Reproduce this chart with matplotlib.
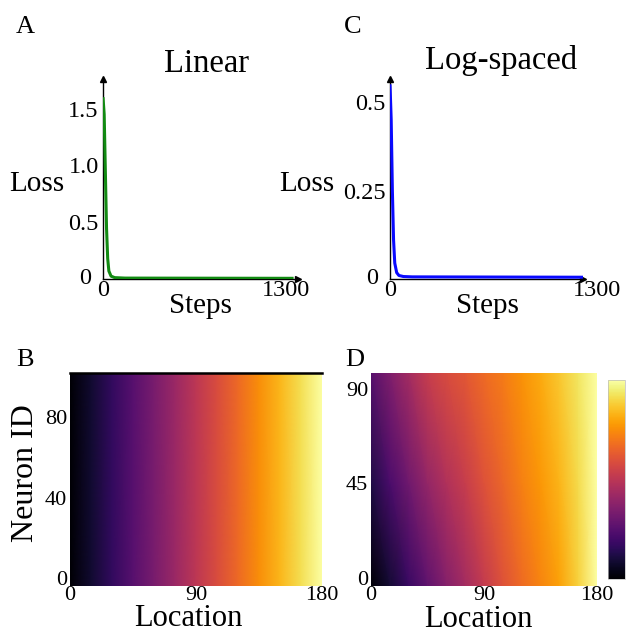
import numpy as np
import matplotlib
matplotlib.use("Agg")
import matplotlib.pyplot as plt
import matplotlib.transforms as mtransforms

plt.rcParams['font.family'] = ['Liberation Serif', 'DejaVu Serif']

# ---- data ----
steps_lin = [0, 8, 16, 24, 32, 40, 55, 80, 150, 1300]
loss_lin = [1.6, 1.45, 0.95, 0.45, 0.18, 0.07, 0.025, 0.012, 0.008, 0.006]
steps_log = [0, 8, 16, 24, 32, 45, 60, 90, 150, 1300]
loss_log = [0.55, 0.45, 0.25, 0.11, 0.045, 0.018, 0.01, 0.007, 0.006, 0.005]

lin_yticks = [0, 0.5, 1.0, 1.5]
lin_yticklabels = ['0', '0.5', '1.0', '1.5']
log_yticks = [0, 0.25, 0.5]
log_yticklabels = ['0', '0.25', '0.5']
step_ticks = [0, 1300]

locations = [0, 15, 30, 45, 60, 75, 90, 105, 120, 135, 150, 165, 180]
# heatmap B (linear): same response profile for every neuron
neuron_nodes_B = [-4, 102]
row_B = [0.0, 0.083, 0.167, 0.25, 0.333, 0.417, 0.5, 0.583, 0.667, 0.75, 0.833, 0.917, 1.0]
# heatmap D (log-spaced): rows at bottom / middle / top neuron IDs
neuron_nodes_D = [-3.8, 45, 97.6]
row_D_bottom = [0.0, 0.09, 0.18, 0.27, 0.36, 0.44, 0.52, 0.60, 0.67, 0.73, 0.79, 0.89, 1.0]
row_D_mid = [0.12, 0.22, 0.31, 0.40, 0.47, 0.53, 0.60, 0.66, 0.72, 0.77, 0.83, 0.91, 1.0]
row_D_top = [0.25, 0.35, 0.44, 0.53, 0.58, 0.62, 0.67, 0.71, 0.76, 0.81, 0.87, 0.93, 1.0]

W, H = 629, 633
fig = plt.figure(figsize=(W / 100, H / 100), dpi=100)


def rect(x0, y0, x1, y1):
    return [x0 / W, 1 - y1 / H, (x1 - x0) / W, (y1 - y0) / H]


def fx(x):
    return x / W


def fy(y):
    return 1 - y / H


def shift(lab, dx, dy):
    lab.set_transform(lab.get_transform() +
                      mtransforms.ScaledTranslation(dx / 100, dy / 100, fig.dpi_scale_trans))


def loss_axes(r, steps, loss, color, xmax, ymax, yt, ytl):
    ax = fig.add_axes(r)
    ax.plot(steps, loss, color=color, lw=2.2, solid_capstyle='butt', zorder=3)
    ax.set_xlim(0, xmax)
    ax.set_ylim(0, ymax)
    for s in ['top', 'right']:
        ax.spines[s].set_visible(False)
    for s in ['left', 'bottom']:
        ax.spines[s].set_linewidth(1.0)
        ax.spines[s].set_color('black')
    ax.plot(1, 0, '>', color='black', ms=4, transform=ax.transAxes, clip_on=False)
    ax.plot(0, 1, '^', color='black', ms=4, transform=ax.transAxes, clip_on=False)
    ax.set_yticks(yt)
    ax.set_yticklabels(ytl)
    ax.set_xticks(step_ticks)
    ax.set_xticklabels([str(s) for s in step_ticks])
    ax.tick_params(length=0, labelsize=17.5, pad=3)
    ax.tick_params(axis='x', pad=1)
    shift(ax.get_yticklabels()[0], -8, 3)
    return ax


# Panel A
axA = loss_axes(rect(103, 79, 298, 279), steps_lin, loss_lin, '#128a12', 1330, 1.76,
                lin_yticks, lin_yticklabels)
shift(axA.get_xticklabels()[-1], -8, 0)
# Panel C
axC = loss_axes(rect(390, 79, 583, 279), steps_log, loss_log, '#0a0aff', 1300, 0.565,
                log_yticks, log_yticklabels)
shift(axC.get_xticklabels()[-1], 14, 0)

# Panel B
axB = fig.add_axes(rect(70, 373, 322, 586))
axB.pcolormesh(locations, neuron_nodes_B, np.array([row_B, row_B]), cmap='inferno',
               vmin=0, vmax=1, shading='gouraud')
axB.set_xlim(0, 180)
axB.set_ylim(neuron_nodes_B[0], neuron_nodes_B[-1])
for s in ['left', 'right', 'bottom']:
    axB.spines[s].set_visible(False)
axB.spines['top'].set_linewidth(1.8)
axB.set_xticks([0, 90, 180])
axB.set_yticks([0, 40, 80])
axB.tick_params(length=0, labelsize=16, pad=2)
axB.tick_params(axis='x', pad=0)

# Panel D
axD = fig.add_axes(rect(371, 373, 597, 586))
mD = axD.pcolormesh(locations, neuron_nodes_D,
                    np.array([row_D_bottom, row_D_mid, row_D_top]), cmap='inferno',
                    vmin=0, vmax=1, shading='gouraud')
axD.set_xlim(0, 180)
axD.set_ylim(neuron_nodes_D[0], neuron_nodes_D[-1])
for s in axD.spines.values():
    s.set_visible(False)
axD.set_xticks([0, 90, 180])
axD.set_yticks([0, 45, 90])
axD.tick_params(length=0, labelsize=16, pad=2)
axD.tick_params(axis='x', pad=0)

cax = fig.add_axes(rect(608, 380, 625, 579))
cb = fig.colorbar(mD, cax=cax)
cb.set_ticks([])
cb.outline.set_linewidth(0.5)
cb.outline.set_edgecolor('#bbbbbb')

# Text
fig.text(fx(25), fy(27), 'A', fontsize=19, ha='center', va='center')
fig.text(fx(353), fy(27), 'C', fontsize=19, ha='center', va='center')
fig.text(fx(25), fy(360), 'B', fontsize=19, ha='center', va='center')
fig.text(fx(355), fy(360), 'D', fontsize=19, ha='center', va='center')

fig.text(fx(207), fy(64), 'Linear', fontsize=23.5, ha='center', va='center')
fig.text(fx(501), fy(61), 'Log-spaced', fontsize=23.5, ha='center', va='center')
fig.text(fx(37), fy(184), 'Loss', fontsize=21, ha='center', va='center')
fig.text(fx(307), fy(184), 'Loss', fontsize=21, ha='center', va='center')
fig.text(fx(200), fy(306), 'Steps', fontsize=21, ha='center', va='center')
fig.text(fx(487), fy(306), 'Steps', fontsize=21, ha='center', va='center')

fig.text(fx(26), fy(473), 'Neuron ID', fontsize=23, ha='center', va='center',
         rotation=90)
fig.text(fx(188), fy(626), 'Location', fontsize=22, ha='center', va='baseline')
fig.text(fx(478), fy(627), 'Location', fontsize=22, ha='center', va='baseline')

fig.savefig('out.png', dpi=100)
